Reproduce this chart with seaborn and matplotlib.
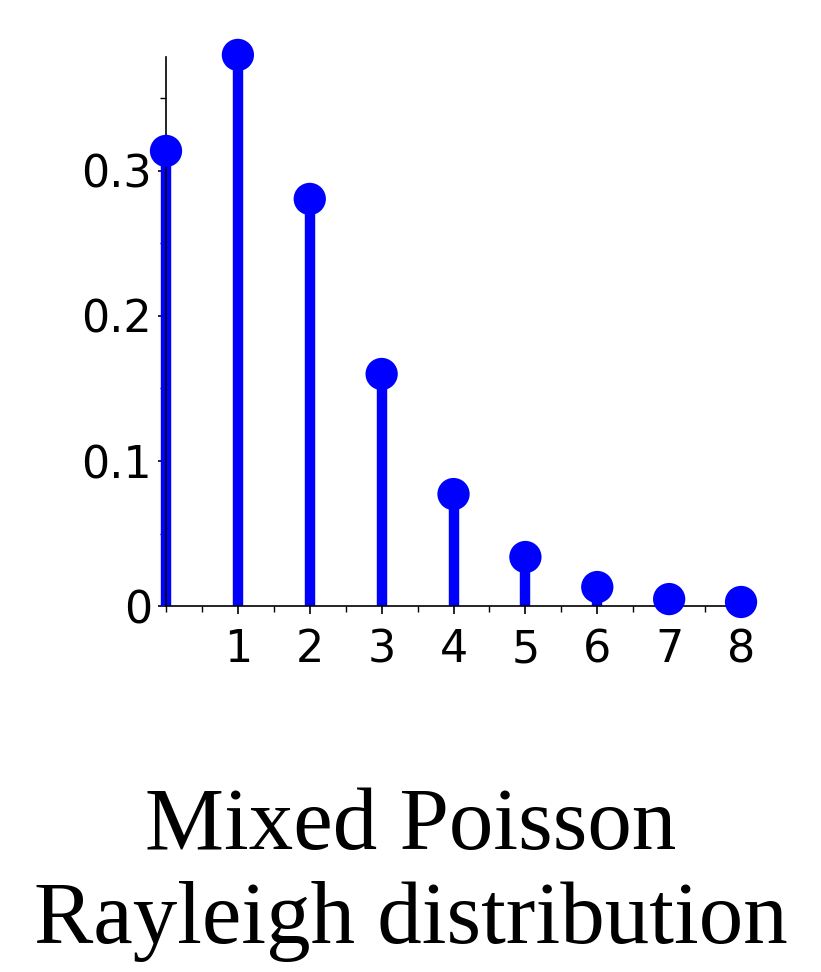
import numpy as np
import matplotlib
matplotlib.use("Agg")
import matplotlib.pyplot as plt
import seaborn as sns
from matplotlib.ticker import MultipleLocator, FixedLocator

k = [0, 1, 2, 3, 4, 5, 6, 7, 8]
prob = [0.3138, 0.380, 0.2807, 0.160, 0.0772, 0.0338, 0.0131, 0.0048, 0.0028]
title_lines = ["Mixed Poisson", "Rayleigh distribution"]

sns.set_style("ticks")
plt.rcParams['font.family'] = ['DejaVu Sans']
plt.rcParams['text.color'] = 'black'

fig = plt.figure(figsize=(8.21, 9.72), dpi=100)
ax = fig.add_axes([0.2022, 0.3765, 0.7004, 0.5649])

# stems, then the dots on top
ax.vlines(k, 0, prob, color='#0000ff', linewidth=7.5, zorder=2, clip_on=False)
sns.scatterplot(x=k, y=prob, ax=ax, color='#0000ff', s=540, edgecolor='none',
                clip_on=False, zorder=3)

ax.set_xlim(0, 8)
ax.set_ylim(0, 0.3786)
for s in ['top', 'right']:
    ax.spines[s].set_visible(False)
for s in ['left', 'bottom']:
    ax.spines[s].set_color('black')
    ax.spines[s].set_linewidth(1.2)

ax.xaxis.set_major_locator(FixedLocator([1, 2, 3, 4, 5, 6, 7, 8]))
ax.xaxis.set_minor_locator(MultipleLocator(0.5))
ax.yaxis.set_major_locator(FixedLocator([0, 0.1, 0.2, 0.3]))
ax.yaxis.set_minor_locator(MultipleLocator(0.05))
ax.set_yticklabels(['0', '0.1', '0.2', '0.3'])
ax.tick_params(axis='both', which='both', direction='out', color='black',
               bottom=True, left=True, labelsize=32, labelcolor='black')
ax.tick_params(axis='both', which='major', length=6, width=1.2, pad=4)
ax.tick_params(axis='both', which='minor', length=4, width=1)
ax.tick_params(axis='x', which='major', pad=10)

fig.text(0.5, 1 - 849 / 972, title_lines[0], ha='center', va='baseline',
         fontsize=64, family='Liberation Serif', color='black')
fig.text(0.5, 1 - 943 / 972, title_lines[1], ha='center', va='baseline',
         fontsize=64, family='Liberation Serif', color='black')

fig.savefig("out.png", dpi=100)
